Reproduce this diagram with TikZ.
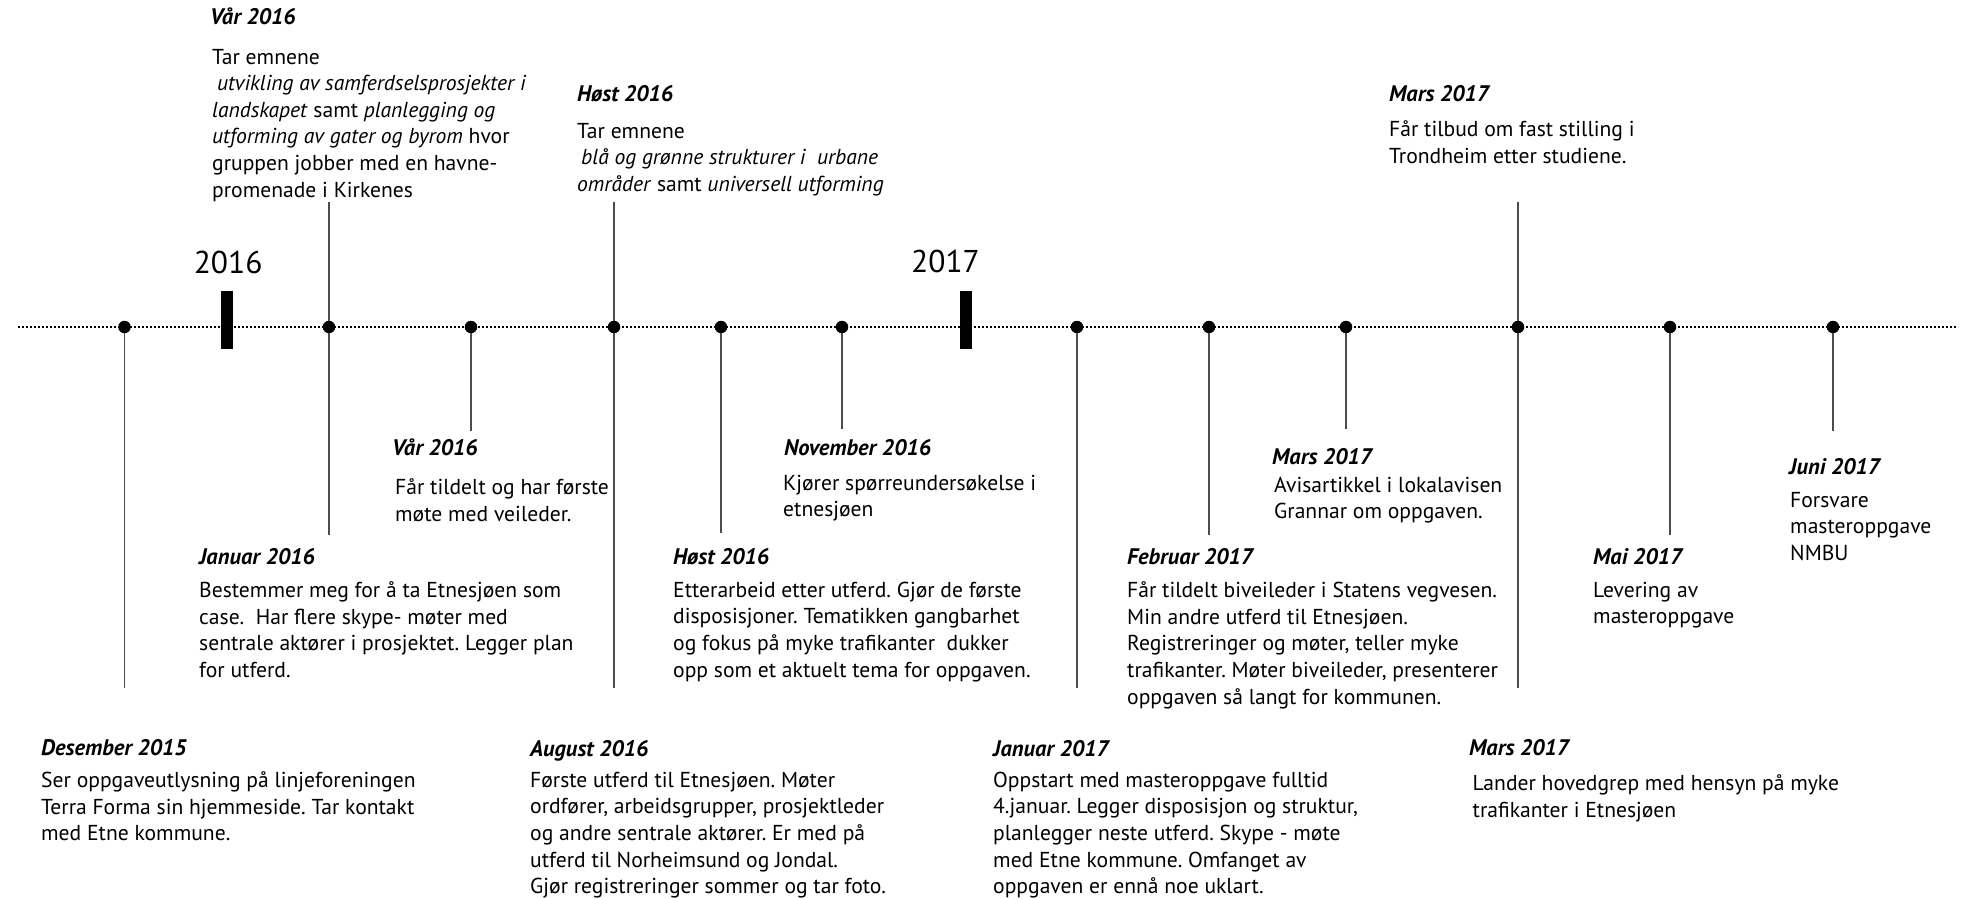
\documentclass[tikz,border=0pt]{standalone}
\usepackage{fontspec}
\setmainfont{PT Sans}
\frenchspacing
\begin{document}
\begin{tikzpicture}[x=1pt,y=-1pt,
  body/.style={anchor=north west, inner sep=0pt, align=left, yshift=14.3pt,
    font=\fontsize{21.6}{26.6}\selectfont, execute at begin node=\strut},
  ttl/.style={anchor=base west, inner sep=0pt, font=\fontsize{22.5}{26}\selectfont\bfseries\itshape},
  yearlbl/.style={anchor=base west, inner sep=0pt, font=\fontsize{31.5}{36}\selectfont},
  stem/.style={draw=black!70, line width=1.3pt},
  evdot/.style={circle, fill=black, inner sep=0pt, minimum size=12.5pt},
  yearbar/.style={fill=black, inner sep=0pt, minimum width=12pt, minimum height=58pt},
  axis/.style={line width=1.6pt, dash pattern=on 2.4pt off 1.6pt}
]
\useasboundingbox (0,0) rectangle (1976,899);

% timeline
\coordinate (tl) at (18,327);
\coordinate (tr) at (1958,327);
\draw[axis] (tl) -- (tr);

% years
\node[yearlbl] (y2016) at (193.6,273) {2016};
\node[yearlbl] (y2017) at (911,272) {2017};
\node[yearbar] (bar2016) at (227,320) {};
\node[yearbar] (bar2017) at (966,320) {};

% dots
\node[evdot] (d1) at (124.5,327) {};
\node[evdot] (d2) at (329,327) {};
\node[evdot] (d3) at (471,327) {};
\node[evdot] (d4) at (614,327) {};
\node[evdot] (d5) at (721,327) {};
\node[evdot] (d6) at (842,327) {};
\node[evdot] (d7) at (1077,327) {};
\node[evdot] (d8) at (1209,327) {};
\node[evdot] (d9) at (1346,327) {};
\node[evdot] (d10) at (1518,327) {};
\node[evdot] (d11) at (1670,327) {};
\node[evdot] (d12) at (1833,327) {};

% stem ends
\coordinate (e1) at (124.5,688);
\coordinate (s2) at (329,201.7);
\coordinate (e2) at (329,535);
\coordinate (e3) at (471,431);
\coordinate (s4) at (614,201.7);
\coordinate (e4) at (614,688);
\coordinate (e5) at (721,533);
\coordinate (e6) at (842,429);
\coordinate (e7) at (1077,688);
\coordinate (e8) at (1209,535);
\coordinate (e9) at (1346,429);
\coordinate (s10) at (1518,201.7);
\coordinate (e10) at (1518,688);
\coordinate (e11) at (1670,535);
\coordinate (e12) at (1833,431);

\draw[stem] (d1) -- (e1);
\draw[stem] (s2) -- (d2) -- (e2);
\draw[stem] (d3) -- (e3);
\draw[stem] (s4) -- (d4) -- (e4);
\draw[stem] (d5) -- (e5);
\draw[stem] (d6) -- (e6);
\draw[stem] (d7) -- (e7);
\draw[stem] (d8) -- (e8);
\draw[stem] (d9) -- (e9);
\draw[stem] (s10) -- (d10) -- (e10);
\draw[stem] (d11) -- (e11);
\draw[stem] (d12) -- (e12);

% top texts
\node[ttl] (t2) at (210,25) {Vår 2016};
\node[body] (b2) at (212,63) {Tar emnene\\\hspace*{5pt}\textit{utvikling av samferdselsprosjekter i}\\\textit{landskapet} samt \textit{planlegging og}\\\textit{utforming av gater og byrom} hvor\\gruppen jobber med en havne-\\promenade i Kirkenes};

\node[ttl] (t4) at (577,102) {Høst 2016};
\node[body] (b4) at (577,137) {Tar emnene\\\hspace*{4pt}\textit{blå og grønne strukturer i\ \ urbane}\\\textit{områder} samt \textit{universell utforming}};

\node[ttl] (t10) at (1389,102) {Mars 2017};
\node[body] (b10) at (1389,135) {Får tilbud om fast stilling i\\Trondheim etter studiene.};

% middle texts
\node[ttl] (t3) at (392,455) {Vår 2016};
\node[body] (b3) at (395,493) {Får tildelt og har første\\møte med veileder.};

\node[ttl] (t6) at (784,455) {November 2016};
\node[body] (b6) at (783,489) {Kjører spørreundersøkelse i\\etnesjøen};

\node[ttl] (t9) at (1272,464) {Mars 2017};
\node[body] (b9) at (1274,491) {Avisartikkel i lokalavisen\\Grannar om oppgaven.};

\node[ttl] (t12) at (1789,474) {Juni 2017};
\node[body] (b12) at (1790,506) {Forsvare\\masteroppgave\\NMBU};

\node[ttl] (t2b) at (199,564) {Januar 2016};
\node[body] (b2b) at (199,596) {Bestemmer meg for å ta Etnesjøen som\\case.\ \ Har flere skype- møter med\\sentrale aktører i prosjektet. Legger plan\\for utferd.};

\node[ttl] (t5) at (673,564) {Høst 2016};
\node[body] (b5) at (673,596) {Etterarbeid etter utferd. Gjør de første\\disposisjoner. Tematikken gangbarhet\\og fokus på myke trafikanter\ \ dukker\\opp som et aktuelt tema for oppgaven.};

\node[ttl] (t8) at (1127,564) {Februar 2017};
\node[body] (b8) at (1127,596) {Får tildelt biveileder i Statens vegvesen.\\Min andre utferd til Etnesjøen.\\Registreringer og møter, teller myke\\trafikanter. Møter biveileder, presenterer\\oppgaven så langt for kommunen.};

\node[ttl] (t11) at (1593,564) {Mai 2017};
\node[body] (b11) at (1593,596) {Levering av\\masteroppgave};

% bottom texts
\node[ttl] (t1) at (41,755) {Desember 2015};
\node[body] (b1) at (41,786) {Ser oppgaveutlysning på linjeforeningen\\Terra Forma sin hjemmeside. Tar kontakt\\med Etne kommune.};

\node[ttl] (t4b) at (530,756) {August 2016};
\node[body] (b4b) at (530,786) {Første utferd til Etnesjøen. Møter\\ordfører, arbeidsgrupper, prosjektleder\\og andre sentrale aktører. Er med på\\utferd til Norheimsund og Jondal.\\Gjør registreringer sommer og tar foto.};

\node[ttl] (t7) at (993,756) {Januar 2017};
\node[body] (b7) at (993,786) {Oppstart med masteroppgave fulltid\\4.januar. Legger disposisjon og struktur,\\planlegger neste utferd. Skype - møte\\med Etne kommune. Omfanget av\\oppgaven er ennå noe uklart.};

\node[ttl] (t10b) at (1469,755) {Mars 2017};
\node[body] (b10b) at (1472.5,789) {Lander hovedgrep med hensyn på myke\\trafikanter i Etnesjøen};
\end{tikzpicture}
\end{document}
